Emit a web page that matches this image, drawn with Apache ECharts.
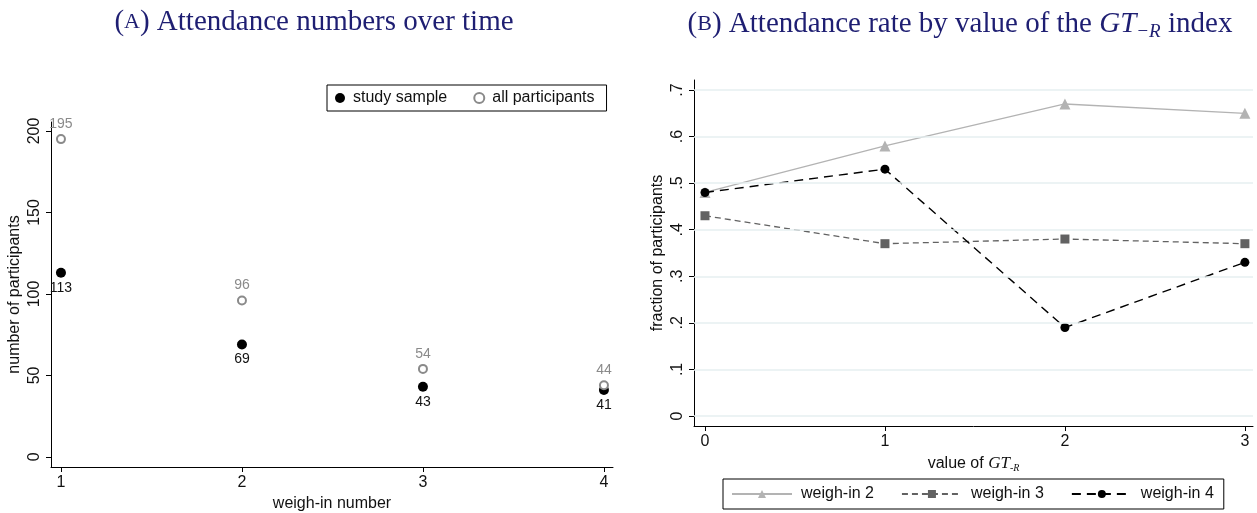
<!DOCTYPE html>
<html><head><meta charset="utf-8">
<script src="https://cdn.jsdelivr.net/npm/echarts@6/dist/echarts.min.js"></script>
<style>html,body{margin:0;padding:0;background:#fff}#c{width:1257px;height:513px}</style>
</head><body><div id="c"></div>
<script>
// Panel A data
const weighIns = [1, 2, 3, 4];
const studySample = [113, 69, 43, 41];
const allParticipants = [195, 96, 54, 44];
const yTicksA = [0, 50, 100, 150, 200];
// Panel B data
const gtValues = [0, 1, 2, 3];
const weighIn2 = [0.48, 0.58, 0.67, 0.65];
const weighIn3 = [0.43, 0.37, 0.38, 0.37];
const weighIn4 = [0.48, 0.53, 0.19, 0.33];
const yTicksB = [0, 0.1, 0.2, 0.3, 0.4, 0.5, 0.6, 0.7];

const SANS = '"Liberation Sans", Arial, sans-serif';
const SERIF = '"Liberation Serif", "DejaVu Serif", serif';
const TITLE_COLOR = '#1e1e72';
const FS = 16;

const chart = echarts.init(document.getElementById('c'), null, {renderer: 'canvas'});
const pair = (xs, ys) => xs.map((x, i) => [x, ys[i]]);

const axisCommon = {
  axisLine: {show: true, onZero: false, lineStyle: {color: '#000', width: 1}},
  splitLine: {show: false}
};

chart.setOption({
  animation: false,
  backgroundColor: '#fff',
  title: [
    {text: '({sc|A}) Attendance numbers over time', left: 309, top: 3, textAlign: 'center',
     textStyle: {fontFamily: SERIF, fontSize: 29, fontWeight: 'normal', color: TITLE_COLOR,
       rich: {sc: {fontFamily: SERIF, fontSize: 22, color: TITLE_COLOR}}}},
    {text: '({sc|B}) Attendance rate by value of the {i|GT}{s|−R} index', left: 955, top: 3, textAlign: 'center',
     textStyle: {fontFamily: SERIF, fontSize: 29, fontWeight: 'normal', color: TITLE_COLOR,
       rich: {sc: {fontFamily: SERIF, fontSize: 22, color: TITLE_COLOR},
              i: {fontFamily: SERIF, fontSize: 29, fontStyle: 'italic', color: TITLE_COLOR},
              s: {fontFamily: SERIF, fontSize: 19, fontStyle: 'italic', color: TITLE_COLOR, padding: [14, 0, 0, 0]}}}}
  ],
  legend: [
    {data: ['study sample', {name: 'all participants', icon: 'emptyCircle'}], left: 327, top: 85, orient: 'horizontal',
     borderColor: '#000', borderWidth: 1, padding: [5, 12, 5, 8], itemGap: 26, itemWidth: 10, itemHeight: 10,
     textStyle: {fontFamily: SANS, fontSize: FS, color: '#111', padding: [0, 0, 0, 3]}},
    {data: ['weigh-in 2', 'weigh-in 3', 'weigh-in 4'], left: 723, top: 479, orient: 'horizontal',
     borderColor: '#000', borderWidth: 1, padding: [7, 10, 7, 8], itemGap: 27, itemWidth: 60, itemHeight: 10,
     textStyle: {fontFamily: SANS, fontSize: FS, color: '#111', padding: [0, 0, 0, 4]}}
  ],
  grid: [
    {left: 51, top: 122, width: 562, height: 345, outerBoundsMode: 'none'},
    {left: 694, top: 80, width: 559, height: 346, outerBoundsMode: 'none'}
  ],
  xAxis: [
    Object.assign({}, axisCommon, {
      type: 'value', gridIndex: 0, min: 0.945, max: 4.05,
      name: 'weigh-in number', nameLocation: 'middle', nameGap: 28,
      nameTextStyle: {fontFamily: SANS, fontSize: FS, color: '#111'},
      axisTick: {show: true, length: 5, lineStyle: {color: '#000'}, customValues: weighIns},
      axisLabel: {customValues: weighIns, fontFamily: SANS, fontSize: FS, color: '#111', margin: 8}
    }),
    Object.assign({}, axisCommon, {
      type: 'value', gridIndex: 1, min: -0.061, max: 3.045,
      name: 'value of {i|GT}{s|-R}', nameLocation: 'middle', nameGap: 29,
      nameTextStyle: {fontFamily: SANS, fontSize: FS, color: '#111',
        rich: {i: {fontFamily: SERIF, fontStyle: 'italic', fontSize: 17, color: '#111'},
               s: {fontFamily: SERIF, fontStyle: 'italic', fontSize: 10, color: '#111', padding: [8, 0, 0, 0]}}},
      axisTick: {show: true, length: 5, lineStyle: {color: '#000'}, customValues: gtValues},
      axisLabel: {customValues: gtValues, fontFamily: SANS, fontSize: FS, color: '#111', margin: 8}
    })
  ],
  yAxis: [
    Object.assign({}, axisCommon, {
      type: 'value', gridIndex: 0, min: -6.2, max: 205.5,
      name: 'number of participants', nameLocation: 'middle', nameGap: 28, nameRotate: 90,
      nameTextStyle: {fontFamily: SANS, fontSize: FS, color: '#111'},
      axisTick: {show: true, length: 5, lineStyle: {color: '#000'}, customValues: yTicksA},
      axisLabel: {customValues: yTicksA, rotate: 90, fontFamily: SANS, fontSize: FS, color: '#111', margin: 8}
    }),
    Object.assign({}, axisCommon, {
      type: 'value', gridIndex: 1, min: -0.0215, max: 0.7215,
      name: 'fraction of participants', nameLocation: 'middle', nameGap: 28, nameRotate: 90,
      nameTextStyle: {fontFamily: SANS, fontSize: FS, color: '#111'},
      axisTick: {show: true, length: 5, lineStyle: {color: '#000'}, customValues: yTicksB},
      axisLabel: {customValues: yTicksB, rotate: 90, fontFamily: SANS, fontSize: FS, color: '#111', margin: 8,
        formatter: v => v === 0 ? '0' : String(Math.round(v * 10) / 10).replace(/^0/, '')}
    })
  ],
  series: [
    {name: 'study sample', type: 'scatter', xAxisIndex: 0, yAxisIndex: 0, data: pair(weighIns, studySample),
     symbol: 'circle', symbolSize: 10, itemStyle: {color: '#000', opacity: 1},
     label: {show: true, position: 'bottom', distance: 3, formatter: p => p.value[1], fontFamily: SANS, fontSize: 14, color: '#111'}},
    {name: 'all participants', type: 'scatter', xAxisIndex: 0, yAxisIndex: 0, data: pair(weighIns, allParticipants),
     symbol: 'emptyCircle', symbolSize: 8, itemStyle: {color: '#8a8a8a', borderColor: '#8a8a8a', borderWidth: 1.3, opacity: 1},
     label: {show: true, position: 'top', distance: 3, formatter: p => p.value[1], fontFamily: SANS, fontSize: 14, color: '#8a8a8a'}},
    {name: 'gridlines', type: 'line', xAxisIndex: 1, yAxisIndex: 1, data: [], silent: true, z: 0,
     markLine: {silent: true, symbol: 'none', label: {show: false}, animation: false,
       lineStyle: {color: '#e6eff1', width: 1.5, type: 'solid'},
       data: yTicksB.map(v => ({yAxis: v}))}},
    {name: 'weigh-in 2', type: 'line', xAxisIndex: 1, yAxisIndex: 1, data: pair(gtValues, weighIn2),
     symbol: 'triangle', symbolSize: 11, itemStyle: {color: '#b3b3b3'},
     lineStyle: {color: '#b3b3b3', width: 1.3, type: 'solid'}},
    {name: 'weigh-in 3', type: 'line', xAxisIndex: 1, yAxisIndex: 1, data: pair(gtValues, weighIn3),
     symbol: 'rect', symbolSize: 9, itemStyle: {color: '#626262'},
     lineStyle: {color: '#626262', width: 1.3, type: [6, 4]}},
    {name: 'weigh-in 4', type: 'line', xAxisIndex: 1, yAxisIndex: 1, data: pair(gtValues, weighIn4),
     symbol: 'circle', symbolSize: 9, itemStyle: {color: '#000'},
     lineStyle: {color: '#000', width: 1.4, type: [9, 6]}}
  ]
});
</script></body></html>
